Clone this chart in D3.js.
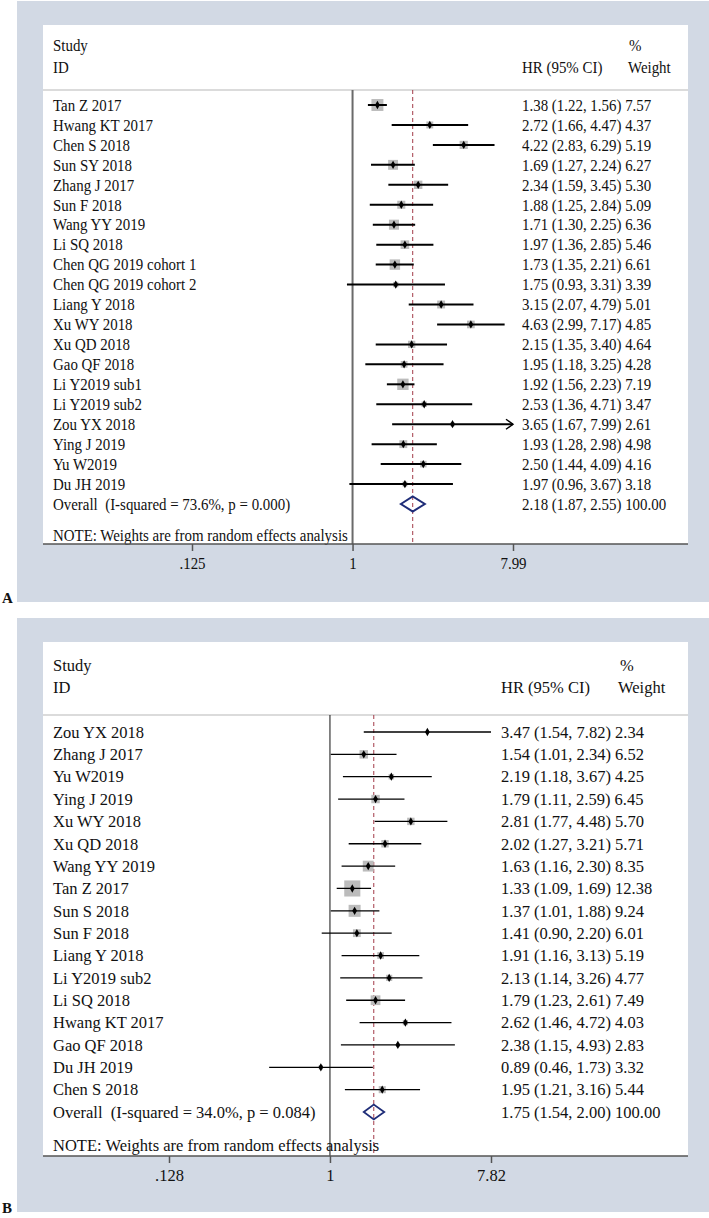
<!DOCTYPE html>
<html>
<head>
<meta charset="utf-8">
<script src="https://cdn.jsdelivr.net/npm/d3@7"></script>
<style>
  body { margin: 0; background: #fff; }
  text { font-family: "Liberation Serif", "Times New Roman", serif; fill: #111; white-space: pre; }
</style>
</head>
<body>
<div id="chart-area"></div>
<script>
// panel A - HR for OS
const studiesA = ["Tan Z 2017", "Hwang KT 2017", "Chen S 2018", "Sun SY 2018", "Zhang J 2017",
  "Sun F 2018", "Wang YY 2019", "Li SQ 2018", "Chen QG 2019 cohort 1", "Chen QG 2019 cohort 2",
  "Liang Y 2018", "Xu WY 2018", "Xu QD 2018", "Gao QF 2018", "Li Y2019 sub1", "Li Y2019 sub2",
  "Zou YX 2018", "Ying J 2019", "Yu W2019", "Du JH 2019"];
const hrA = [1.38, 2.72, 4.22, 1.69, 2.34, 1.88, 1.71, 1.97, 1.73, 1.75, 3.15, 4.63, 2.15, 1.95, 1.92, 2.53, 3.65, 1.93, 2.50, 1.97];
const loA = [1.22, 1.66, 2.83, 1.27, 1.59, 1.25, 1.30, 1.36, 1.35, 0.93, 2.07, 2.99, 1.35, 1.18, 1.56, 1.36, 1.67, 1.28, 1.44, 0.96];
const hiA = [1.56, 4.47, 6.29, 2.24, 3.45, 2.84, 2.25, 2.85, 2.21, 3.31, 4.79, 7.17, 3.40, 3.25, 2.23, 4.71, 7.99, 2.98, 4.09, 3.67];
const weightA = [7.57, 4.37, 5.19, 6.27, 5.30, 5.09, 6.36, 5.46, 6.61, 3.39, 5.01, 4.85, 4.64, 4.28, 7.19, 3.47, 2.61, 4.98, 4.16, 3.18];
const overallA = [2.18, 1.87, 2.55]; // hr, lo, hi
const hetA = "Overall  (I-squared = 73.6%, p = 0.000)";
const tickValsA = [0.125, 1, 7.99];
const tickLabelsA = [".125", "1", "7.99"];
const arrowA = ["Zou YX 2018"];

// panel B
const studiesB = ["Zou YX 2018", "Zhang J 2017", "Yu W2019", "Ying J 2019", "Xu WY 2018", "Xu QD 2018",
  "Wang YY 2019", "Tan Z 2017", "Sun S 2018", "Sun F 2018", "Liang Y 2018", "Li Y2019 sub2",
  "Li SQ 2018", "Hwang KT 2017", "Gao QF 2018", "Du JH 2019", "Chen S 2018"];
const hrB = [3.47, 1.54, 2.19, 1.79, 2.81, 2.02, 1.63, 1.33, 1.37, 1.41, 1.91, 2.13, 1.79, 2.62, 2.38, 0.89, 1.95];
const loB = [1.54, 1.01, 1.18, 1.11, 1.77, 1.27, 1.16, 1.09, 1.01, 0.90, 1.16, 1.14, 1.23, 1.46, 1.15, 0.46, 1.21];
const hiB = [7.82, 2.34, 3.67, 2.59, 4.48, 3.21, 2.30, 1.69, 1.88, 2.20, 3.13, 3.26, 2.61, 4.72, 4.93, 1.73, 3.16];
const weightB = [2.34, 6.52, 4.25, 6.45, 5.70, 5.71, 8.35, 12.38, 9.24, 6.01, 5.19, 4.77, 7.49, 4.03, 2.83, 3.32, 5.44];
const overallB = [1.75, 1.54, 2.00];
const hetB = "Overall  (I-squared = 34.0%, p = 0.084)";
const tickValsB = [0.128, 1, 7.82];
const tickLabelsB = [".128", "1", "7.82"];
const arrowB = [];

const noteText = "NOTE: Weights are from random effects analysis";
const fontSize = 16.5;

const svg = d3.select("#chart-area").append("svg")
  .attr("width", 709)
  .attr("height", 1218);

function addText(g, x, y, str, sx, anchor) {
  return g.append("text")
    .attr("transform", `translate(${x},${y}) scale(${sx},1)`)
    .attr("dy", "0.35em")
    .attr("font-size", fontSize)
    .attr("text-anchor", anchor || "start")
    .text(str);
}

function drawPanel(p) {
  const g = svg.append("g");
  const n = p.studies.length;

  g.append("rect").attr("x", 17).attr("y", p.top).attr("width", 692).attr("height", p.bgH).attr("fill", "#d2d9e4");
  g.append("rect").attr("x", 43).attr("y", p.top + 24).attr("width", 645).attr("height", p.axisY - p.top - 24).attr("fill", "#fff");

  const x = d3.scaleLog().domain(p.domain).range(p.xRange);
  const y = d3.scalePoint().domain(d3.range(n + 1)).range(p.rowRange);

  // header
  addText(g, 53, p.head1, "Study", p.sx);
  addText(g, 53, p.head2, "ID", p.sx);
  addText(g, p.hrX, p.head2, "HR (95% CI)", p.sx);
  addText(g, p.pctX, p.head1, "%", p.sx);
  addText(g, p.wtX, p.head2, "Weight", p.sx);
  g.append("line").attr("x1", 43).attr("x2", 688).attr("y1", p.sepY).attr("y2", p.sepY)
    .attr("stroke", "#cfcfcf").attr("stroke-width", 1.5);

  // null line and overall line
  g.append("line").attr("x1", x(1)).attr("x2", x(1)).attr("y1", p.sepY).attr("y2", p.axisY)
    .attr("stroke", p.nullColor).attr("stroke-width", p.nullW);
  g.append("line").attr("x1", x(p.overall[0])).attr("x2", x(p.overall[0])).attr("y1", p.sepY).attr("y2", p.axisY)
    .attr("stroke", "#a33a48").attr("stroke-width", 1).attr("stroke-dasharray", "4,3");

  const rows = p.studies.map((s, i) => ({ s, hr: p.hr[i], lo: p.lo[i], hi: p.hi[i], w: p.weight[i], i }));

  rows.forEach(d => {
    const cy = y(d.i);
    const side = d.w * p.boxK;
    g.append("rect").attr("x", x(d.hr) - side / 2).attr("y", cy - side / 2)
      .attr("width", side).attr("height", side).attr("fill", "#bcbcbc");
    g.append("line").attr("x1", x(d.lo)).attr("x2", x(d.hi)).attr("y1", cy).attr("y2", cy)
      .attr("stroke", "#000").attr("stroke-width", p.lineW);
    if (p.arrows.includes(d.s)) {
      const ax = x(d.hi);
      g.append("path").attr("d", `M${ax - 7},${cy - 5}L${ax},${cy}L${ax - 7},${cy + 5}`)
        .attr("fill", "none").attr("stroke", "#000").attr("stroke-width", 1.4);
    }
    g.append("path").attr("transform", `translate(${x(d.hr)},${cy})`)
      .attr("d", d3.symbol(d3.symbolDiamond, 20)()).attr("fill", "#000");
    addText(g, 53, cy, d.s, p.sx);
    addText(g, p.hrX, cy, `${d.hr.toFixed(2)} (${d.lo.toFixed(2)}, ${d.hi.toFixed(2)}) ${d.w.toFixed(2)}`, p.sx);
  });

  // overall diamond
  const oy = y(n);
  const [oh, ol, ou] = p.overall;
  g.append("path")
    .attr("d", `M${x(ol)},${oy}L${x(oh)},${oy - 7.5}L${x(ou)},${oy}L${x(oh)},${oy + 7.5}Z`)
    .attr("fill", "none").attr("stroke", "#1f2d78").attr("stroke-width", p.diaW);
  addText(g, 53, oy, p.het, p.sx);
  addText(g, p.hrX, oy, `${oh.toFixed(2)} (${ol.toFixed(2)}, ${ou.toFixed(2)}) 100.00`, p.sx);

  addText(g, 53, p.noteY, noteText, p.sx);

  // x axis
  g.append("line").attr("x1", 43).attr("x2", 688).attr("y1", p.axisY).attr("y2", p.axisY)
    .attr("stroke", "#555").attr("stroke-width", 1.5);
  const axis = d3.axisBottom(x)
    .tickValues(p.tickVals)
    .tickFormat((v, i) => p.tickLabels[i])
    .tickSize(7)
    .tickPadding(6);
  const ag = g.append("g").attr("transform", `translate(0,${p.axisY})`).call(axis);
  ag.select(".domain").remove();
  ag.selectAll(".tick line").attr("stroke", "#555").attr("stroke-width", 1.5);
  ag.selectAll(".tick text")
    .attr("font-size", fontSize)
    .attr("font-family", "'Liberation Serif', 'Times New Roman', serif")
    .attr("fill", "#111")
    .attr("transform", `scale(${p.sx},1)`);

  g.append("text").attr("x", 2).attr("y", p.labelY).attr("dy", "0.35em")
    .attr("font-size", 15).attr("font-weight", "bold").text(p.label);
}

drawPanel({
  studies: studiesA, hr: hrA, lo: loA, hi: hiA, weight: weightA, overall: overallA, het: hetA,
  tickVals: tickValsA, tickLabels: tickLabelsA, arrows: arrowA,
  top: 1, bgH: 601, head1: 45, head2: 67, sepY: 90, rowRange: [105, 504], noteY: 535, axisY: 544,
  domain: [0.125, 7.99], xRange: [192, 513], hrX: 522, pctX: 629, wtX: 628, sx: 0.905,
  lineW: 2, nullColor: "#6a6a6a", nullW: 2, boxK: 1.58, diaW: 2, label: "A", labelY: 598
});

drawPanel({
  studies: studiesB, hr: hrB, lo: loB, hi: hiB, weight: weightB, overall: overallB, het: hetB,
  tickVals: tickValsB, tickLabels: tickLabelsB, arrows: arrowB,
  top: 618, bgH: 594, head1: 665, head2: 687, sepY: 715, rowRange: [732, 1112], noteY: 1145, axisY: 1156,
  domain: [0.128, 7.82], xRange: [169, 491], hrX: 501, pctX: 620, wtX: 618, sx: 1,
  lineW: 1.3, nullColor: "#111", nullW: 1, boxK: 1.3, diaW: 1.8, label: "B", labelY: 1208
});
</script>
</body>
</html>
